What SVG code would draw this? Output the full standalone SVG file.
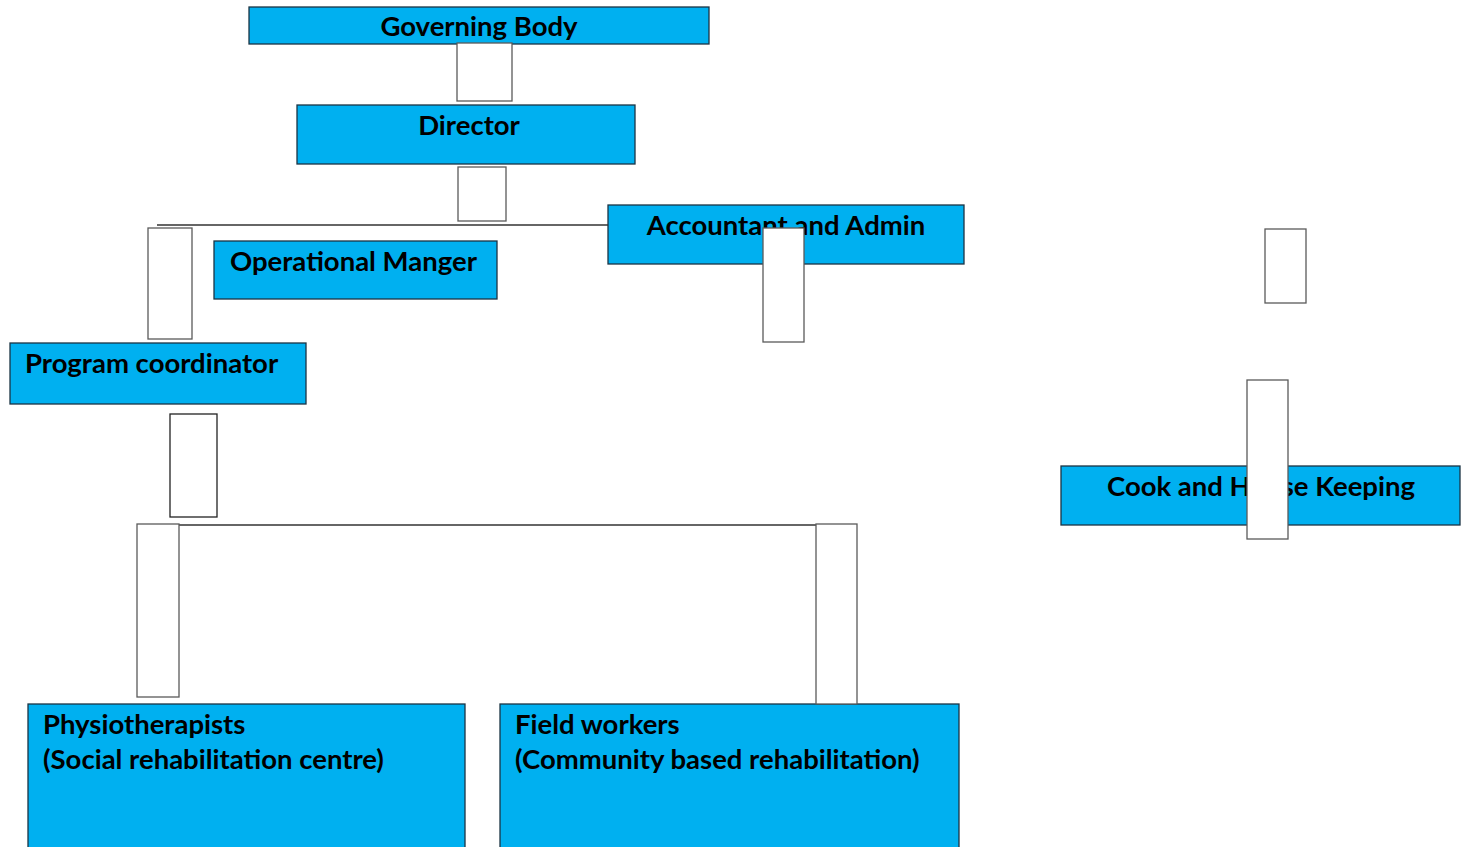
<svg xmlns="http://www.w3.org/2000/svg" width="1463" height="847" viewBox="0 0 1463 847">
<style>
.box{fill:#00B0F0;stroke:#1B3444;stroke-width:1.3}
.con{fill:#FFFFFF;stroke:#5A5A5A;stroke-width:1.3}
.ln{stroke:#333333;stroke-width:1.5;fill:none}
.t{font-family:Lato,"Liberation Sans",sans-serif;font-weight:bold;font-size:27.5px;fill:#000000}
.c{text-anchor:middle}
</style>
<rect width="1463" height="847" fill="#FFFFFF"/>
<g id="governing-body"><rect class="box" x="249" y="7" width="460" height="37"/><text class="t c" x="479" y="36">Governing Body</text></g>
<g id="director"><rect class="box" x="297" y="105" width="338" height="59"/><text class="t c" x="469" y="135">Director</text></g>
<g id="accountant"><rect class="box" x="608" y="205" width="356" height="59"/><text class="t c" x="786" y="235">Accountant and Admin</text></g>
<g id="operational-manager"><rect class="box" x="214" y="241" width="283" height="58"/><text class="t" x="230" y="271">Operational Manger</text></g>
<g id="program-coordinator"><rect class="box" x="10" y="343" width="296" height="61"/><text class="t" x="25" y="373">Program coordinator</text></g>
<g id="cook"><rect class="box" x="1061" y="466" width="399" height="59"/><text class="t c" x="1261" y="496">Cook and House Keeping</text></g>
<g id="physiotherapists"><rect class="box" x="28" y="704" width="437" height="150"/><text class="t" x="43" y="734">Physiotherapists</text><text class="t" x="43" y="769">(Social rehabilitation centre)</text></g>
<g id="field-workers"><rect class="box" x="500" y="704" width="459" height="150"/><text class="t" x="515" y="734">Field workers</text><text class="t" x="515" y="769">(Community based rehabilitation)</text></g>
<g id="connectors">
<line class="ln" x1="157" y1="225" x2="608" y2="225"/>
<line class="ln" x1="179" y1="525" x2="816" y2="525"/>
<rect class="con" x="457" y="43" width="55" height="58"/>
<rect class="con" x="458" y="167" width="48" height="54"/>
<rect class="con" x="763" y="228" width="41" height="114"/>
<rect class="con" x="148" y="228" width="44" height="111"/>
<rect class="con" x="170" y="414" width="47" height="103" style="stroke:#222"/>
<rect class="con" x="1265" y="229" width="41" height="74"/>
<rect class="con" x="1247" y="380" width="41" height="159"/>
<rect class="con" x="137" y="524" width="42" height="173"/>
<rect class="con" x="816" y="524" width="41" height="180"/>
</g>
</svg>
